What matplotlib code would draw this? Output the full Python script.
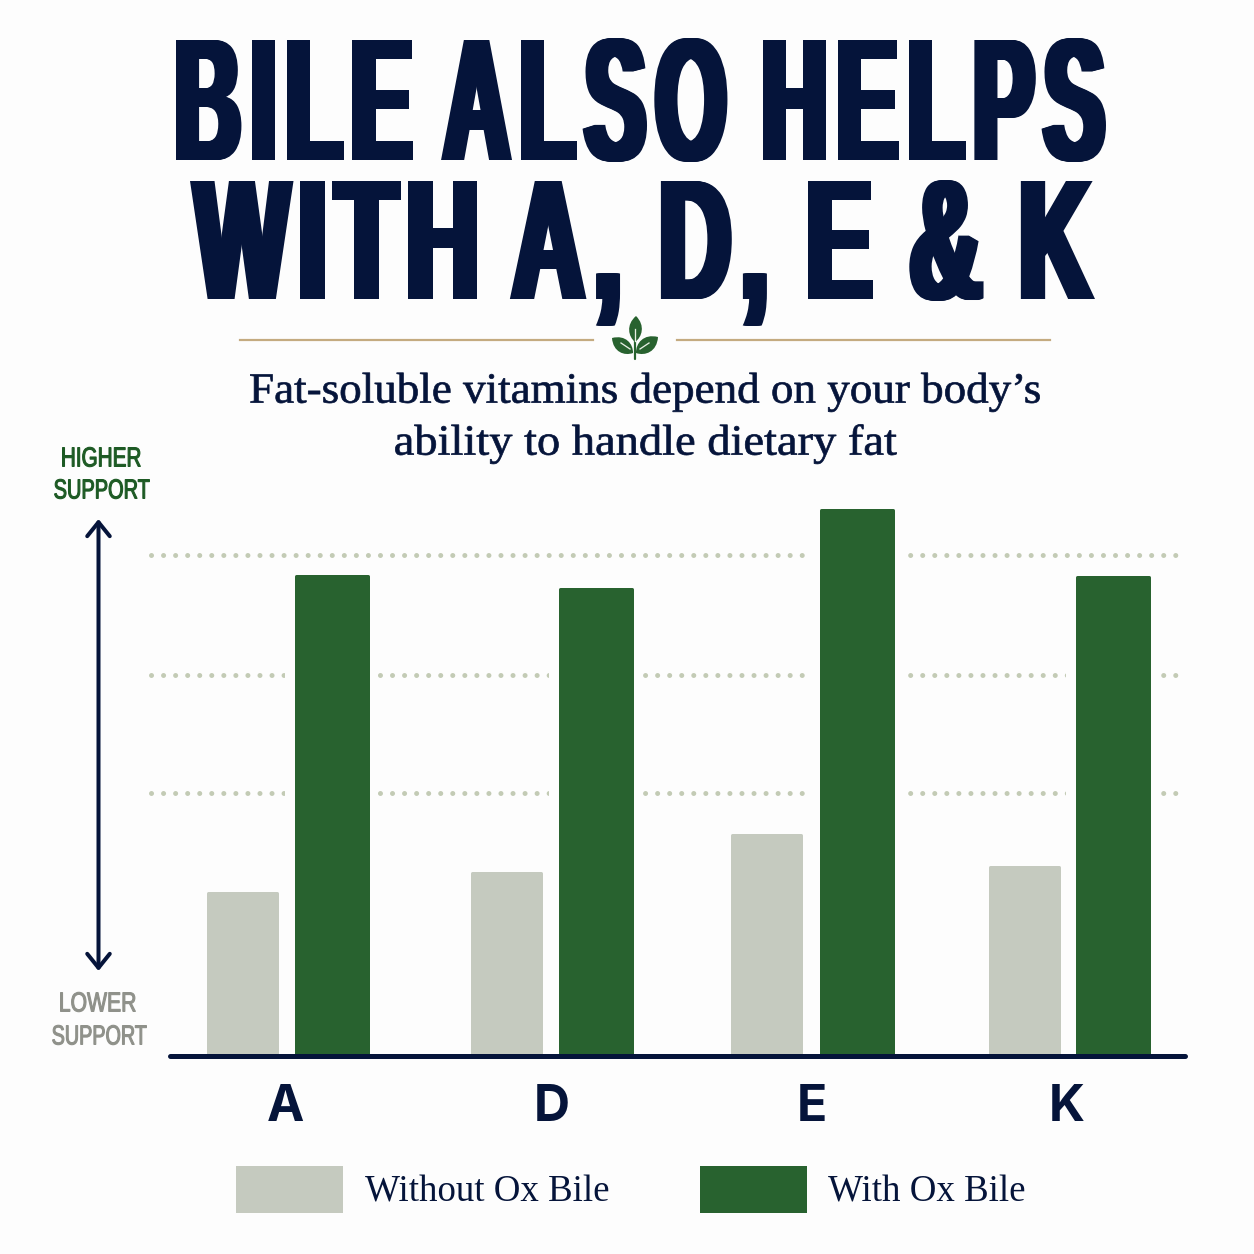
import numpy as np
import matplotlib
matplotlib.use("Agg")
import matplotlib.pyplot as plt
from matplotlib.patheffects import AbstractPathEffect
from matplotlib.textpath import TextPath
from matplotlib.font_manager import FontProperties
from matplotlib.transforms import Affine2D
from matplotlib.path import Path
from matplotlib.patches import PathPatch

# ---- data (values read as relative support, baseline = 0)
vitamins = ["A", "D", "E", "K"]
without_bile = [164, 184, 222, 190]
with_bile = [481, 468, 547, 480]
grid_levels = [263, 381, 501]
series_names = ["Without Ox Bile", "With Ox Bile"]
title_lines = ["BILE ALSO HELPS", "WITH A, D, E & K"]
subtitle_lines = ["Fat-soluble vitamins depend on your body\u2019s", "ability to handle dietary fat"]

# ---- layout
W = H = 1254
DPI = 100
BASE_Y = 1056
TOP_Y = 480
label_x = [285, 552, 812, 1067]
without_x = [242.25, 506.25, 766.25, 1024.25]
with_x = [331.75, 595.75, 856.75, 1112.75]
NAVY = "#05143a"
GREEN = "#28622f"
GREY = "#c5cabf"
DOT = "#c3cbb5"
TAN = "#c4ab80"
BG = "#fdfdfd"
px = 72 / DPI
EDGE = 3  # px, rounded outline of the bars

fig = plt.figure(figsize=(W / DPI, H / DPI), dpi=DPI, facecolor=BG)

ax = fig.add_axes([0, (H - BASE_Y) / H, 1, (BASE_Y - TOP_Y) / H], facecolor="none")
ax.set_xlim(0, W)
ax.set_ylim(0, BASE_Y - TOP_Y)
for s in ["top", "left", "right"]:
    ax.spines[s].set_visible(False)
ax.spines["bottom"].set_bounds(170, 1185)
ax.spines["bottom"].set_linewidth(5 * px)
ax.spines["bottom"].set_color(NAVY)
ax.spines["bottom"].set_capstyle("round")
ax.spines["bottom"].set_zorder(6)
ax.set_yticks([])
ax.set_xticks(label_x, vitamins, fontsize=36, fontweight="bold", family="Inter", color=NAVY)
ax.tick_params(axis="x", length=0, pad=20)

ax.hlines(grid_levels, 151, 1177, colors=DOT, lw=5 * px, linestyles=[(0, (0.01, 2.4))],
          capstyle="round", zorder=1)
# white halo behind the tall bars interrupts the dotted guides
ax.bar(with_x, with_bile, width=75 + 18, color=BG, lw=0, zorder=2)
ax.bar(without_x, np.array(without_bile) - 0.5, width=72 - EDGE, color=GREY, ec=GREY,
       lw=EDGE * px, joinstyle="round", zorder=3, label=series_names[0])
ax.bar(with_x, np.array(with_bile) - 0.5, width=75 - EDGE, color=GREEN, ec=GREEN,
       lw=EDGE * px, joinstyle="round", zorder=3, label=series_names[1])

handles, labels = ax.get_legend_handles_labels()
handles = [h for h in handles if h.get_label() in series_names]
leg_fs = 26.6
em = leg_fs / px
hh = (44 / em - 0.245) / 0.65
leg = ax.legend(handles, series_names, loc="center", bbox_to_anchor=(631.5 / W, (BASE_Y - 1189) / (BASE_Y - TOP_Y)),
                ncol=2, frameon=False, handlelength=104 / em, handleheight=hh,
                handletextpad=24 / em, columnspacing=91 / em, borderaxespad=0, borderpad=0,
                prop=FontProperties(family="Liberation Serif", size=leg_fs))
for t in leg.get_texts():
    t.set_color(NAVY)

# ---- overlay in pixel coordinates for text and ornaments
ov = fig.add_axes([0, 0, 1, 1], facecolor="none")
ov.set_xlim(0, W)
ov.set_ylim(H, 0)
ov.axis("off")


def split_glyphs(path):
    """Group the outlines of a text path into glyphs by their horizontal extent."""
    v, c = path.vertices, path.codes
    starts = list(np.flatnonzero(c == Path.MOVETO)) + [len(c)]
    subs = []
    for a, b in zip(starts[:-1], starts[1:]):
        keep = c[a:b] != Path.CLOSEPOLY
        xs = v[a:b][keep, 0]
        subs.append((xs.min(), xs.max(), a, b))
    subs.sort()
    groups = []
    for x0, x1, a, b in subs:
        if groups and x0 < groups[-1][1]:
            groups[-1][1] = max(groups[-1][1], x1)
            groups[-1][2].append((a, b))
        else:
            groups.append([x0, x1, [(a, b)]])
    out = []
    for x0, x1, parts in groups:
        vv = np.concatenate([v[a:b] for a, b in parts])
        cc = np.concatenate([c[a:b] for a, b in parts])
        out.append(Path(vv, cc))
    return out


class Squeeze(AbstractPathEffect):
    """Condense the glyph outlines of a real text object; optional stroke, tracking, x-smear."""
    def __init__(self, sx, sy, fat=0, track=0, smear=0):
        super().__init__()
        self.sx, self.sy, self.fat, self.track, self.smear = sx, sy, fat, track, smear

    def draw_path(self, renderer, gc, tpath, affine, rgbFace):
        f = affine.get_matrix()[0, 0]
        gc0 = renderer.new_gc()
        gc0.copy_properties(gc)
        gc0.set_foreground(rgbFace)
        gc0.set_linewidth(self.fat * px)
        gc0.set_joinstyle("miter")
        glyphs = split_glyphs(tpath) if self.track or self.smear else [tpath]
        steps = np.arange(0, self.smear + 0.01, 1.0) if self.smear else [0]
        for i, g in enumerate(glyphs):
            for st in steps:
                off = (i * self.track + st) / f
                xf = Affine2D().scale(self.sx, self.sy).translate(off, 0) + affine
                renderer.draw_path(gc0, g, xf, rgbFace)
        gc0.restore()


def fit_text(s, left, right, baseline, cap, family, weight, size, color, fat=0.0, track=0.0, smear=0.0):
    fp = FontProperties(family=family, weight=weight, size=size)
    tp = TextPath((0, 0), s, prop=fp)
    ext = tp.get_extents()
    hext = TextPath((0, 0), "H", prop=fp).get_extents()
    k = 1 / px
    n = len(split_glyphs(tp))
    sx = (right - left - fat - smear - (n - 1) * track) / (ext.width * k)
    sy = (cap - fat) / (hext.height * k) if cap else 1.0
    x0 = left + fat / 2 - ext.x0 * k * sx
    t = ov.text(x0, baseline - fat / 2, s, fontproperties=fp, color=color, ha="left", va="baseline")
    t.set_path_effects([Squeeze(sx, sy, fat, track, smear)])
    return t


NARROW = ["Liberation Sans Narrow", "Liberation Sans"]
fit_text(title_lines[0], 176, 1106, 160, 120, NARROW, "bold", 72, NAVY, track=10, smear=10)
fit_text(title_lines[1], 190, 1095, 299, 118, NARROW, "bold", 72, NAVY, track=10, smear=10)
fit_text(subtitle_lines[0], 250, 1040, 403, None, "Liberation Serif", "normal", 31, NAVY, fat=0.7)
fit_text(subtitle_lines[1], 395, 897, 455, None, "Liberation Serif", "normal", 31, NAVY, fat=0.7)

DARKG = "#1d5a24"
LOWG = "#8f918a"
fit_text("HIGHER", 62, 141, 467, 20, NARROW, "normal", 20, DARKG, fat=1.1)
fit_text("SUPPORT", 54, 150, 499, 20, NARROW, "normal", 20, DARKG, fat=1.1)
fit_text("LOWER", 60, 136, 1012, 20, NARROW, "normal", 20, LOWG, fat=1.1)
fit_text("SUPPORT", 52, 147, 1045, 20, NARROW, "normal", 20, LOWG, fat=1.1)

# axis direction arrow
ov.annotate("", xy=(98.5, 519), xytext=(98.5, 971),
            arrowprops=dict(arrowstyle="<->,head_length=0.72,head_width=0.58", color=NAVY,
                            lw=4 * px, mutation_scale=14, shrinkA=0, shrinkB=0,
                            capstyle="round", joinstyle="round"))

# ornament rules
ov.plot([240, 593], [339.5, 339.5], color=TAN, lw=2.2 * px)
ov.plot([677, 1050], [339.5, 339.5], color=TAN, lw=2.2 * px)


def leaf(p0, p1, bulge):
    (x0, y0), (x1, y1) = p0, p1
    dx, dy = x1 - x0, y1 - y0
    nx, ny = -dy, dx
    a = (x0 + .35 * dx + bulge * nx, y0 + .35 * dy + bulge * ny)
    b = (x0 + .8 * dx + bulge * .7 * nx, y0 + .8 * dy + bulge * .7 * ny)
    c = (x0 + .35 * dx - bulge * nx, y0 + .35 * dy - bulge * ny)
    d = (x0 + .8 * dx - bulge * .7 * nx, y0 + .8 * dy - bulge * .7 * ny)
    return Path([p0, a, b, p1, d, c, p0], [Path.MOVETO] + [Path.CURVE4] * 6)


for p0, p1, bl in [((636, 316), (635, 342), 0.38), ((612, 338), (633, 353), 0.42), ((658, 337), (636, 353), 0.42)]:
    ov.add_patch(PathPatch(leaf(p0, p1, bl), fc=GREEN, ec="none"))
ov.plot([634.5, 634.5], [340, 359], color=GREEN, lw=2.2 * px, solid_capstyle="round")
ov.plot([635, 635], [329, 341], color="#e8f0e4", lw=1.3 * px)
ov.plot([621, 630], [343, 349], color="#e8f0e4", lw=1.3 * px)
ov.plot([649, 640], [343, 349], color="#e8f0e4", lw=1.3 * px)

fig.savefig("out.png", dpi=DPI, facecolor=BG)
